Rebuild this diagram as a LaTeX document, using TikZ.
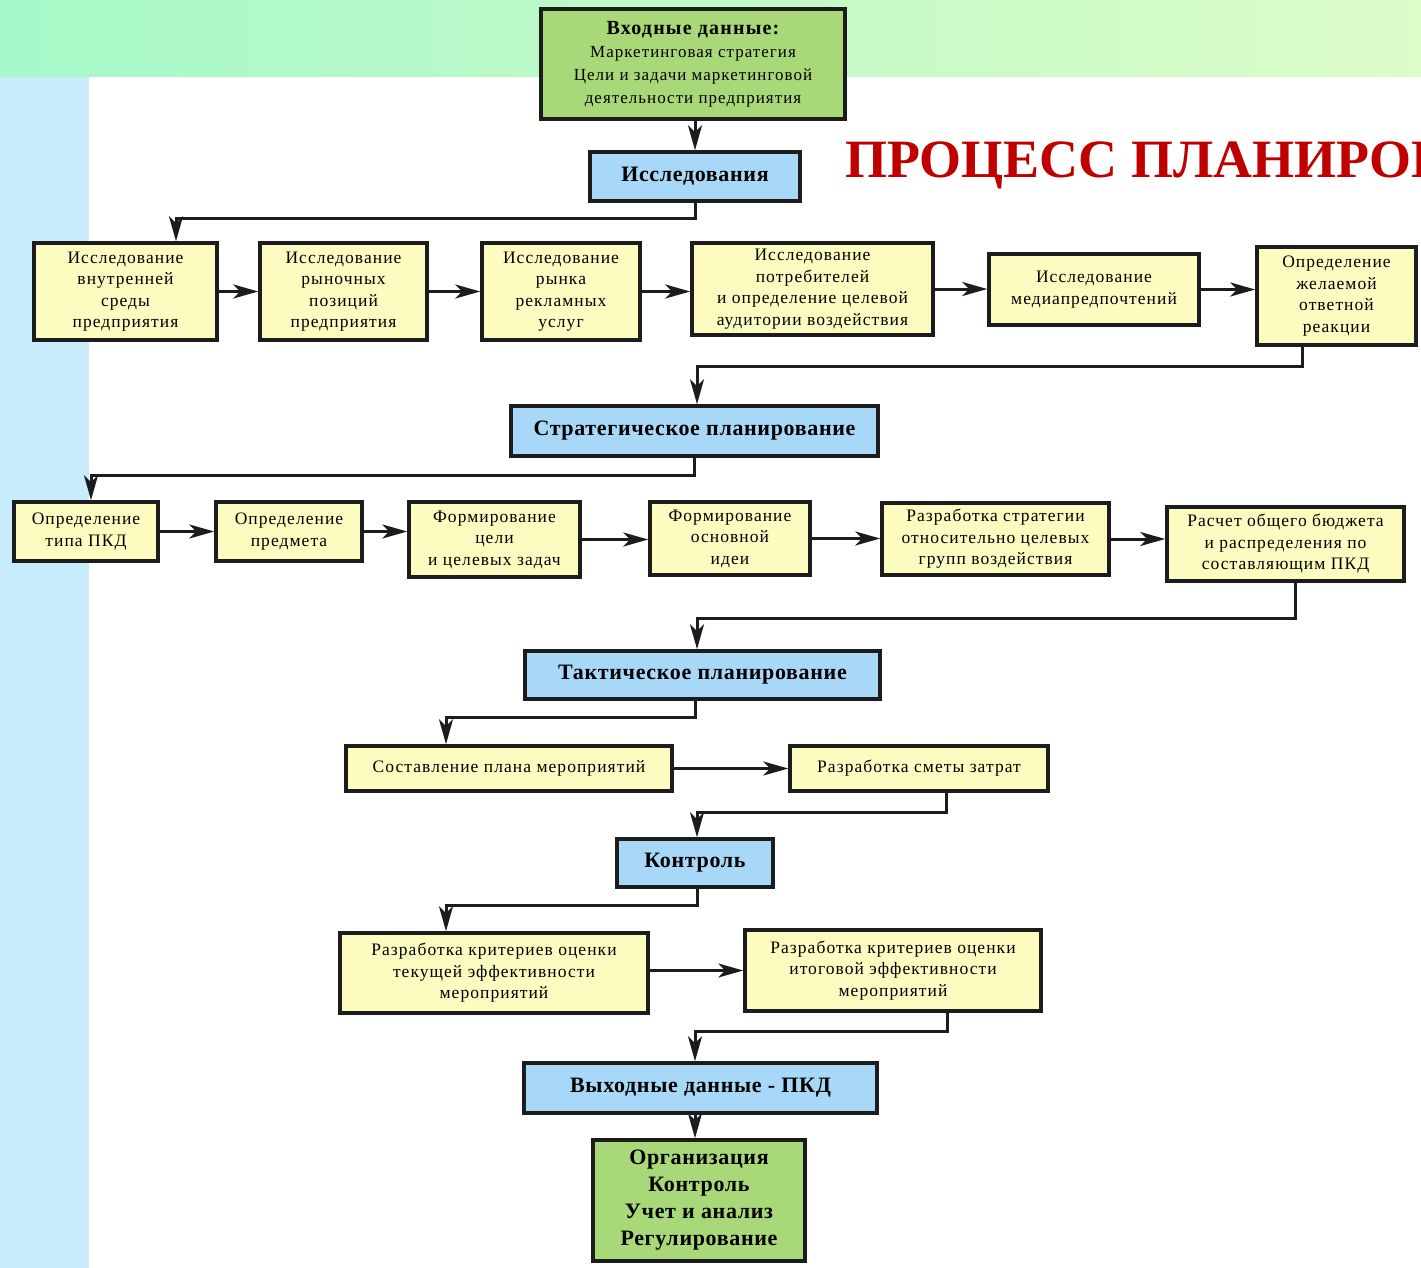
\documentclass[tikz,border=0pt]{standalone}
\usepackage{fontspec}
\setmainfont{Liberation Serif}
\usetikzlibrary{arrows.meta}
\definecolor{bandl}{HTML}{A6F8C8}
\definecolor{bandr}{HTML}{DCFCC8}
\definecolor{sidebar}{HTML}{C8ECFC}
\definecolor{taskfill}{HTML}{FCFCC0}
\definecolor{stagefill}{HTML}{A8D8F8}
\definecolor{iofill}{HTML}{A8D878}
\definecolor{edge}{HTML}{1C1C1C}
\definecolor{titlered}{HTML}{C00000}
\newcommand\boxfont{\fontsize{17.5}{21.5}\selectfont\addfontfeatures{LetterSpace=6}}
\newcommand\headfont{\fontsize{22}{27}\selectfont\bfseries\addfontfeatures{LetterSpace=3}}

\begin{document}
\begin{tikzpicture}[x=1pt,y=-1pt,>={Stealth[length=25pt,width=14pt,inset=7pt]}]
\tikzstyle{task}=[draw=edge,line width=3.5pt,fill=taskfill,align=center,inner sep=1pt,font=\boxfont]
\tikzstyle{stage}=[task,fill=stagefill,font=\headfont]
\tikzstyle{io}=[task,fill=iofill]
\tikzstyle{link}=[draw=edge,line width=3pt,->]
\useasboundingbox (0,0) rectangle (1421,1268);
\clip (0,0) rectangle (1421,1268);
\shade[left color=bandl,right color=bandr] (0,0) rectangle (1421,77);
\fill[sidebar] (0,77) rectangle (89,1268);
\node[anchor=base west,inner sep=0,text=titlered,font=\fontsize{54}{60}\selectfont\bfseries] (title) at (845,178) {ПРОЦЕСС ПЛАНИРОВАНИЯ};
\node[io,minimum width=304pt,minimum height=110pt,font=\fontsize{17}{23}\selectfont\addfontfeatures{LetterSpace=6}] (in) at (693,64) {{\fontsize{20}{23}\selectfont\bfseries Входные данные:}\\Маркетинговая стратегия\\Цели и задачи маркетинговой\\деятельности предприятия};
\node[stage,minimum width=210pt,minimum height=49pt] (res) at (695,176.5) {Исследования};
\node[task,minimum width=183pt,minimum height=97pt] (r1) at (125.5,291.5) {Исследование\\внутренней\\среды\\предприятия};
\node[task,minimum width=167pt,minimum height=97pt] (r2) at (343.5,291.5) {Исследование\\рыночных\\позиций\\предприятия};
\node[task,minimum width=158pt,minimum height=97pt] (r3) at (561,291.5) {Исследование\\рынка\\рекламных\\услуг};
\node[task,minimum width=241pt,minimum height=92pt] (r4) at (812.5,289) {Исследование\\потребителей\\и определение целевой\\аудитории воздействия};
\node[task,minimum width=210pt,minimum height=71pt] (r5) at (1094,289.5) {Исследование\\медиапредпочтений};
\node[task,minimum width=159pt,minimum height=98pt] (r6) at (1336.5,296) {Определение\\желаемой\\ответной\\реакции};
\node[stage,minimum width=367pt,minimum height=50pt] (strat) at (694.5,431) {Стратегическое планирование};
\node[task,minimum width=144pt,minimum height=59pt] (s1) at (86,531.5) {Определение\\типа ПКД};
\node[task,minimum width=146pt,minimum height=59pt] (s2) at (289,531.5) {Определение\\предмета};
\node[task,minimum width=171pt,minimum height=75pt] (s3) at (494.5,539.5) {Формирование\\цели\\и целевых задач};
\node[task,minimum width=160pt,minimum height=73pt] (s4) at (730,538.5) {Формирование\\основной\\идеи};
\node[task,minimum width=227pt,minimum height=72pt] (s5) at (995.5,539) {Разработка стратегии\\относительно целевых\\групп воздействия};
\node[task,minimum width=237pt,minimum height=74pt] (s6) at (1285.5,544) {Расчет общего бюджета\\и распределения по\\составляющим ПКД};
\node[stage,minimum width=355pt,minimum height=48pt] (tact) at (702.5,675) {Тактическое планирование};
\node[task,minimum width=326pt,minimum height=45pt] (t1) at (509,768.5) {Составление плана мероприятий};
\node[task,minimum width=258pt,minimum height=45pt] (t2) at (919,768.5) {Разработка сметы затрат};
\node[stage,minimum width=156pt,minimum height=48pt] (ctrl) at (695,863) {Контроль};
\node[task,minimum width=308pt,minimum height=80pt] (k1) at (494,973) {Разработка критериев оценки\\текущей эффективности\\мероприятий};
\node[task,minimum width=296pt,minimum height=81pt] (k2) at (893,970.5) {Разработка критериев оценки\\итоговой эффективности\\мероприятий};
\node[stage,minimum width=353pt,minimum height=50pt] (out) at (700.5,1088) {Выходные данные - ПКД};
\node[io,minimum width=212pt,minimum height=121pt,font=\fontsize{22}{27}\selectfont\bfseries\addfontfeatures{LetterSpace=3}] (fin) at (699,1200.5) {Организация\\Контроль\\Учет и анализ\\Регулирование};
\draw[link] (in.south -| res) -- (res.north);
\draw[link] (res.south) -- ++(0,16) -| ([xshift=50.5pt]r1.north);
\draw[link] (r1.east) -- (r1.east -| r2.west);
\draw[link] (r2.east) -- (r2.east -| r3.west);
\draw[link] (r3.east) -- (r3.east -| r4.west);
\draw[link] (r4.east) -- (r4.east -| r5.west);
\draw[link] (r5.east) -- (r5.east -| r6.west);
\draw[link] ([xshift=-34.5pt]r6.south) -- ++(0,20) -| ([xshift=2.5pt]strat.north);
\draw[link] (strat.south) -- ++(0,18) -| ([xshift=5pt]s1.north);
\draw[link] (s1.east) -- (s1.east -| s2.west);
\draw[link] (s2.east) -- (s2.east -| s3.west);
\draw[link] (s3.east) -- (s3.east -| s4.west);
\draw[link] (s4.east) -- (s4.east -| s5.west);
\draw[link] (s5.east) -- (s5.east -| s6.west);
\draw[link] ([xshift=9.5pt]s6.south) -- ++(0,36) -| ([xshift=-5.5pt]tact.north);
\draw[link] ([xshift=-7.5pt]tact.south) -- ++(0,17) -| ([xshift=-63pt]t1.north);
\draw[link] (t1.east) -- (t2.west);
\draw[link] ([xshift=27pt]t2.south) -- ++(0,20) -| ([xshift=2pt]ctrl.north);
\draw[link] ([xshift=2pt]ctrl.south) -- ++(0,17) -| ([xshift=-48pt]k1.north);
\draw[link] (k2.west -| k1.east) -- (k2.west);
\draw[link] ([xshift=54pt]k2.south) -- ++(0,19) -| ([xshift=-5.5pt]out.north);
\draw[link] ([xshift=-5.5pt]out.south) -- ([xshift=-5.5pt]out.south |- fin.north);
\end{tikzpicture}
\end{document}
